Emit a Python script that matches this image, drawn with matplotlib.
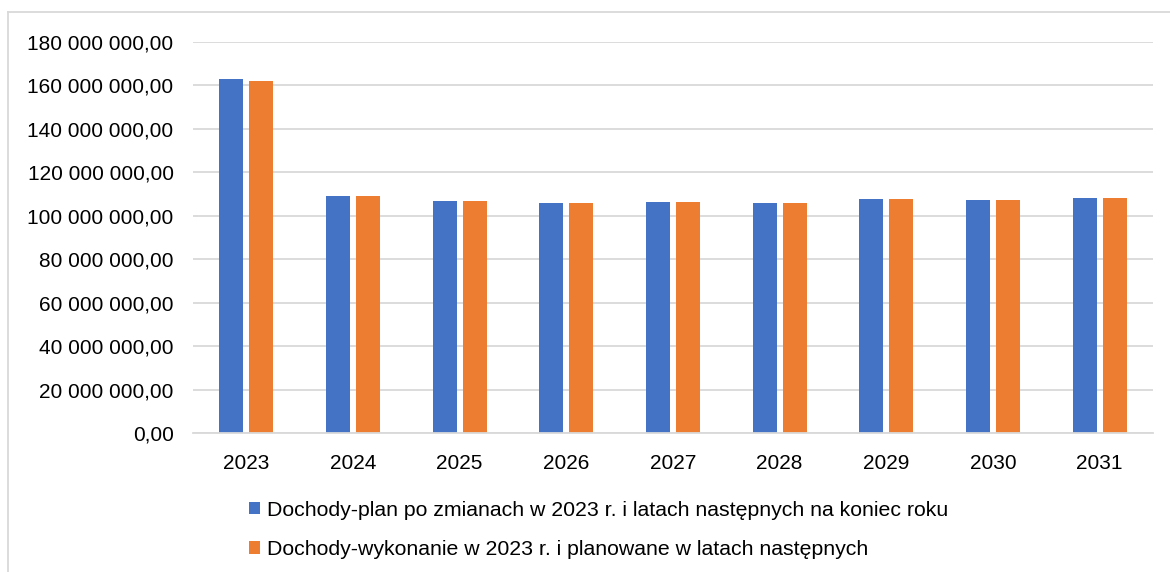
import matplotlib.pyplot as plt
import numpy as np
from matplotlib.lines import Line2D
from matplotlib.ticker import FuncFormatter

plt.rcParams['font.family'] = ['Liberation Sans', 'DejaVu Sans']

years = ["2023", "2024", "2025", "2026", "2027", "2028", "2029", "2030", "2031"]
plan = [163.0e6, 109.1e6, 106.8e6, 105.9e6, 106.3e6, 105.9e6, 107.7e6, 107.3e6, 108.2e6]
wykonanie = [162.2e6, 109.1e6, 106.8e6, 105.9e6, 106.3e6, 105.9e6, 107.7e6, 107.3e6, 108.2e6]
labels = ["Dochody-plan po zmianach w 2023 r. i latach następnych na koniec roku",
          "Dochody-wykonanie w 2023 r. i planowane w latach następnych"]

W, H = 1170, 572
fig = plt.figure(figsize=(W / 100, H / 100), dpi=100)
ax = fig.add_axes([193 / W, 1 - 433 / H, (1153 - 193) / W, (433 - 42) / H])

x = np.arange(len(years))
bw = 0.225
off = 0.14
ax.bar(x - off, plan, bw, color="#4472c4", label=labels[0])
ax.bar(x + off, wykonanie, bw, color="#ed7d31", label=labels[1])

ax.set_xlim(-0.5, len(years) - 0.5)
ax.set_ylim(0, 180e6)
ax.set_yticks(np.arange(0, 180e6 + 1, 20e6))
ax.yaxis.set_major_formatter(FuncFormatter(
    lambda v, p: "{:,.2f}".format(v).replace(",", " ").replace(".", ",")))
ax.set_xticks(x)
ax.set_xticklabels(years)
ax.tick_params(axis="both", length=0, labelsize=15, colors="black")
ax.tick_params(axis="y", pad=14)
ax.tick_params(axis="x", pad=15)
ax.grid(axis="y", color="#d9d9d9", linewidth=1.3)
ax.set_axisbelow(True)
for s in ["top", "right", "left"]:
    ax.spines[s].set_visible(False)
ax.spines["bottom"].set_color("#d9d9d9")
ax.spines["bottom"].set_linewidth(1.3)

fig.legend(loc="upper left", bbox_to_anchor=(240 / W, 1 - 492 / H), ncol=1,
           frameon=False, fontsize=15.3, handlelength=0.55, handleheight=0.55,
           handletextpad=0.3, labelspacing=0.95, borderaxespad=0)

# chart border
fig.add_artist(Line2D([8 / W, 1], [1 - 12 / H, 1 - 12 / H], color="#d9d9d9", lw=1.3,
                      transform=fig.transFigure))
fig.add_artist(Line2D([8 / W, 8 / W], [0, 1 - 12 / H], color="#d9d9d9", lw=1.3,
                      transform=fig.transFigure))

fig.savefig("out.png", dpi=100)
